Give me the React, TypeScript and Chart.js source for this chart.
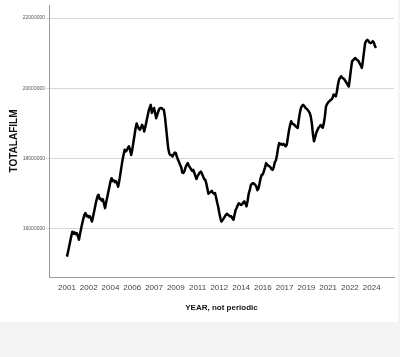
import React, { useEffect, useRef } from "react";
import { Chart, registerables } from "chart.js";

Chart.register(...registerables);

// Monthly values (millions), Jan 2001 .. Sep 2024
const y2001_2004 = [
  15.21, 15.35, 15.5, 15.65, 15.8, 15.92, 15.86, 15.9, 15.85, 15.88, 15.8, 15.69,
  15.85, 16.0, 16.15, 16.28, 16.4, 16.45, 16.36, 16.38, 16.33, 16.36, 16.3, 16.21,
  16.35, 16.5, 16.65, 16.8, 16.92, 16.97, 16.85, 16.86, 16.8, 16.84, 16.72, 16.59,
  16.75, 16.9, 17.05, 17.2, 17.35, 17.44, 17.36, 17.38, 17.33, 17.36, 17.3, 17.2,
];
const y2005_2008 = [
  17.35, 17.55, 17.75, 17.95, 18.1, 18.25, 18.2, 18.24, 18.3, 18.35, 18.25, 18.1,
  18.25, 18.45, 18.65, 18.85, 19.0, 18.92, 18.85, 18.82, 18.88, 18.96, 18.9, 18.77,
  18.9, 19.05, 19.2, 19.35, 19.45, 19.53, 19.3, 19.38, 19.44, 19.3, 19.15, 19.25,
  19.35, 19.42, 19.44, 19.44, 19.4, 19.39, 19.2, 18.9, 18.6, 18.3, 18.15, 18.1,
];
const y2009_2012 = [
  18.1, 18.06, 18.12, 18.17, 18.16, 18.05, 17.97, 17.9, 17.82, 17.75, 17.6, 17.59,
  17.65, 17.75, 17.82, 17.87, 17.8, 17.75, 17.7, 17.65, 17.68, 17.6, 17.5, 17.42,
  17.5, 17.55, 17.6, 17.63, 17.58, 17.5, 17.42, 17.4, 17.3, 17.15, 17.0, 17.03,
  17.05, 17.08, 17.03, 17.0, 17.02, 16.9, 16.75, 16.62, 16.45, 16.3, 16.21, 16.25,
];
const y2013_2016 = [
  16.3, 16.35, 16.4, 16.43, 16.4, 16.38, 16.35, 16.36, 16.3, 16.26, 16.4, 16.54,
  16.6, 16.68, 16.73, 16.7, 16.68, 16.7, 16.75, 16.78, 16.72, 16.64, 16.8, 17.0,
  17.1, 17.25, 17.28, 17.3, 17.28, 17.25, 17.2, 17.1, 17.15, 17.3, 17.45, 17.54,
  17.55, 17.65, 17.75, 17.87, 17.82, 17.8, 17.78, 17.75, 17.7, 17.68, 17.75, 17.9,
];
const y2017_2020 = [
  17.95, 18.1, 18.3, 18.44, 18.4, 18.42, 18.39, 18.42, 18.38, 18.35, 18.4, 18.6,
  18.8, 18.95, 19.06, 19.0, 18.98, 18.96, 18.92, 18.9, 18.87, 19.1, 19.3, 19.44,
  19.5, 19.53, 19.5, 19.45, 19.42, 19.39, 19.35, 19.3, 19.2, 19.0, 18.7, 18.49,
  18.6, 18.73, 18.8, 18.87, 18.9, 18.95, 18.92, 18.88, 19.0, 19.2, 19.48, 19.55,
];
const y2021_2024 = [
  19.6, 19.63, 19.66, 19.68, 19.72, 19.82, 19.8, 19.77, 19.9, 20.1, 20.25, 20.3,
  20.34, 20.3, 20.28, 20.25, 20.2, 20.15, 20.1, 20.05, 20.3, 20.55, 20.77, 20.8,
  20.84, 20.86, 20.82, 20.8, 20.77, 20.7, 20.65, 20.58, 20.8, 21.05, 21.29, 21.35,
  21.38, 21.35, 21.3, 21.29, 21.3, 21.34, 21.3, 21.2, 21.15,
];

const xTickLabels = [
  "2001", "2002", "2004", "2006", "2007", "2009", "2011", "2012",
  "2014", "2016", "2017", "2019", "2021", "2022", "2024",
];
const xTickEvery = 20; // months between labels
const yTickValues = [16000000, 18000000, 20000000, 22000000];
const yMin = 14630000;
const yMax = 22370000;

export default function App() {
  const ref = useRef<HTMLCanvasElement | null>(null);

  useEffect(() => {
    const series = [
      ...y2001_2004, ...y2005_2008, ...y2009_2012,
      ...y2013_2016, ...y2017_2020, ...y2021_2024,
    ];
    const points = series.map((v, i) => ({ x: i, y: Math.round(v * 1e6) }));
    const chart = new Chart(ref.current!, {
      type: "line",
      data: {
        datasets: [
          {
            data: points,
            borderColor: "#000000",
            borderWidth: 2.5,
            pointRadius: 0,
            tension: 0,
            borderJoinStyle: "round",
            fill: false,
          },
        ],
      },
      options: {
        animation: false,
        responsive: false,
        maintainAspectRatio: false,
        events: [],
        layout: { padding: { left: 0, top: 5, right: 4, bottom: 0 } },
        plugins: { legend: { display: false }, tooltip: { enabled: false } },
        scales: {
          x: {
            type: "linear",
            min: -16.5,
            max: 300.5,
            afterBuildTicks: (s: any) => {
              s.ticks = xTickLabels.map((_, i) => ({ value: i * xTickEvery }));
            },
            afterFit: (s: any) => {
              s.height = 45;
            },
            grid: { display: false, drawTicks: false },
            border: { display: true, color: "#9a9a9a", width: 1 },
            ticks: {
              autoSkip: false,
              maxRotation: 0,
              padding: 6,
              color: "#444444",
              font: { family: "'Liberation Sans Narrow', 'Liberation Sans', Arial, sans-serif", size: 8 },
              callback: (v: any) => {
                const idx = Math.round(Number(v) / xTickEvery);
                return xTickLabels[idx] ?? "";
              },
            },
            title: {
              display: true,
              text: "YEAR, not periodic",
              color: "#111111",
              font: { family: "'Liberation Sans Narrow', 'Liberation Sans', Arial, sans-serif", size: 8, weight: "bold" },
              padding: { top: 0, bottom: 9 },
            },
          },
          y: {
            type: "linear",
            min: yMin,
            max: yMax,
            afterBuildTicks: (s: any) => {
              s.ticks = yTickValues.map((v) => ({ value: v }));
            },
            afterFit: (s: any) => {
              s.width = 49;
            },
            grid: { color: "#d6d6d6", lineWidth: 1, drawTicks: true, tickLength: 3 },
            border: { display: true, color: "#9a9a9a", width: 1 },
            ticks: {
              padding: 1,
              color: "#555555",
              font: { family: "'Liberation Sans', Arial, sans-serif", size: 5 },
              callback: (v: any) => String(v),
            },
            title: {
              display: true,
              text: "TOTALAFILM",
              color: "#111111",
              font: { family: "'Liberation Sans Narrow', 'Liberation Sans', Arial, sans-serif", size: 10, weight: "bold" },
              padding: { top: 8, bottom: 0 },
            },
          },
        },
      },
    });
    return () => chart.destroy();
  }, []);

  return (
    <div style={{ position: "fixed", left: 0, top: 0, width: 400, height: 357, background: "#f4f4f4" }}>
      <div style={{ position: "absolute", left: 0, top: 0, width: 398, height: 322, background: "#ffffff" }}>
        <canvas ref={ref} width={398} height={322} style={{ display: "block" }} />
      </div>
    </div>
  );
}
